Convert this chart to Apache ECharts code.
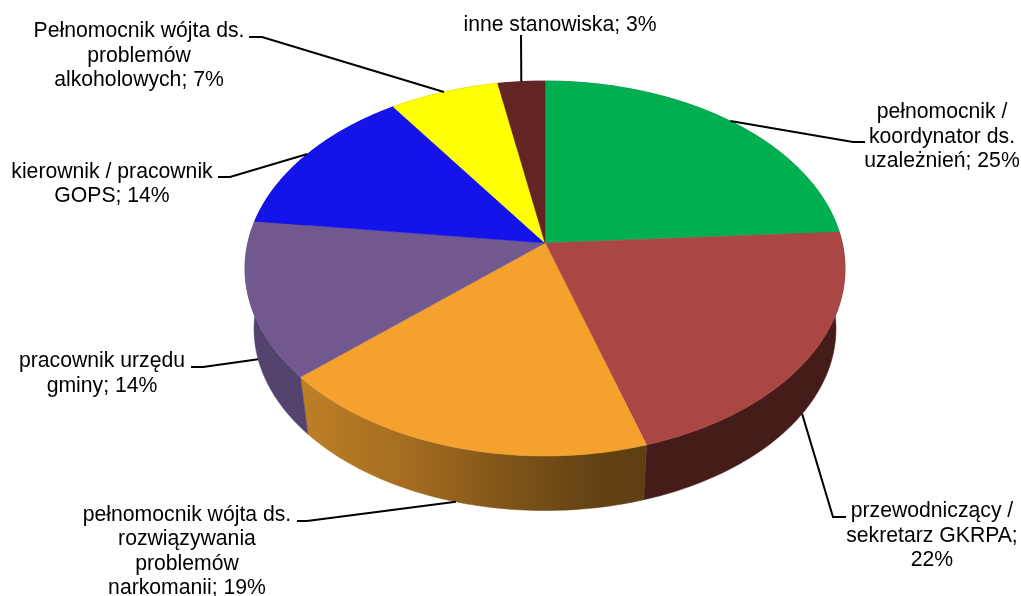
<!DOCTYPE html>
<html>
<head>
<meta charset="utf-8">
<style>html,body{margin:0;padding:0;background:#fff}#chart{width:1021px;height:596px}</style>
<script src="https://cdn.jsdelivr.net/npm/echarts@6/dist/echarts.min.js"></script>
</head>
<body>
<div id="chart"></div>
<script>
// Survey shares (multiple answers allowed, so the percentages sum above 100)
const categories = [
  'pełnomocnik /\nkoordynator ds.\nuzależnień',
  'przewodniczący /\nsekretarz GKRPA',
  'pełnomocnik wójta ds.\nrozwiązywania\nproblemów\nnarkomanii',
  'pracownik urzędu\ngminy',
  'kierownik / pracownik\nGOPS',
  'Pełnomocnik wójta ds.\nproblemów\nalkoholowych',
  'inne stanowiska'
];
const shares = [25, 22, 19, 14, 14, 7, 3];
const topColors = ['#00B050', '#AA4643', '#F5A12E', '#71588F', '#1414EA', '#FFFF00', '#632523'];

// Separator before the percentage; the second label wraps it onto its own line
const labelJoins = ['; ', ';\n', '; ', '; ', '; ', '; ', '; '];

// Label block centres and leader-line elbows
const labelCenters = [[942, 137], [932, 536], [187, 551.5], [102, 373.5], [112, 184], [139, 56], [560, 25]];
const elbows = [
  [[853, 142], [865, 142]],
  [[833, 517], [846, 517]],
  [[307, 521], [297, 521]],
  [[203, 367], [191, 367]],
  [[230, 177], [218, 177]],
  [[262, 37], [249, 37]],
  [[521, 35]]
];

// Perspective disc: the apex sits above the centre of the visible ellipse
const apexX = 545, apexY = 243;
const discA = 297.2, discB = 184, tilt = 0.136;
const wallScale = 0.97, wallDrop = 61;

const total = shares.reduce((s, v) => s + v, 0);
const starts = [];
shares.reduce((s, v, i) => { starts[i] = s; return s + v; }, 0);

function rimPoint(turn, lower) {
  const t = turn * 2 * Math.PI;
  const X = Math.sin(t), Z = -Math.cos(t), w = 1 - tilt * Z;
  const px = discA * X / w, py = discB * Z / w;
  return lower
    ? [apexX + px * wallScale, apexY + py * wallScale + wallDrop]
    : [apexX + px, apexY + py];
}

function rimArc(a, b, lower) {
  const n = Math.max(8, Math.ceil((b - a) * 360));
  const pts = [];
  for (let i = 0; i <= n; i++) pts.push(rimPoint(a + (b - a) * i / n, lower));
  return pts;
}

function wallFill(i) {
  if (i === 2) {
    return new echarts.graphic.LinearGradient(300, 0, 648, 0, [
      { offset: 0, color: '#BE7F26' },
      { offset: 0.3, color: '#A56D20' },
      { offset: 0.6, color: '#7F5418' },
      { offset: 0.85, color: '#624213' },
      { offset: 1, color: '#5E3F12' }
    ], true);
  }
  return ['#00662F', '#451C1A', '#000', '#54436E', '#0A0A90', '#999900', '#3A1614'][i];
}

function sliceTurns(i) {
  return [starts[i] / total, (starts[i] + shares[i]) / total];
}

function renderWall(params) {
  const i = params.dataIndex;
  const [a, b] = sliceTurns(i);
  const fill = wallFill(i);
  const pts = rimArc(a, b, false).concat(rimArc(a, b, true).reverse());
  return { type: 'polygon', shape: { points: pts }, style: { fill, stroke: fill, lineWidth: 0.5 } };
}

function renderTop(params) {
  const i = params.dataIndex;
  const [a, b] = sliceTurns(i);
  const pts = [[apexX, apexY]].concat(rimArc(a, b, false));
  return { type: 'polygon', shape: { points: pts }, style: { fill: topColors[i], stroke: topColors[i], lineWidth: 0.5 } };
}

function renderLabel(params, api) {
  const i = params.dataIndex;
  const [a, b] = sliceTurns(i);
  const mid = (a + b) / 2;
  const front = mid > 0.25 && mid < 0.75;
  const line = [rimPoint(mid, front)].concat(elbows[i]);
  const [cx, cy] = labelCenters[i];
  return {
    type: 'group',
    children: [
      { type: 'polyline', shape: { points: line }, style: { fill: 'none', stroke: '#000', lineWidth: 2 } },
      {
        type: 'text',
        style: {
          x: cx, y: cy,
          text: categories[i] + labelJoins[i] + api.value(0) + '%',
          align: 'center', verticalAlign: 'middle',
          font: '21.2px "Liberation Sans", Arial, sans-serif',
          lineHeight: 24.5,
          fill: '#000'
        }
      }
    ]
  };
}

const chart = echarts.init(document.getElementById('chart'), null, { renderer: 'canvas' });
chart.setOption({
  animation: false,
  backgroundColor: '#fff',
  series: [
    { type: 'custom', coordinateSystem: 'none', z: 1, silent: true, renderItem: renderWall, data: shares },
    { type: 'custom', coordinateSystem: 'none', z: 2, silent: true, renderItem: renderTop, data: shares },
    { type: 'custom', coordinateSystem: 'none', z: 3, silent: true, renderItem: renderLabel, data: shares }
  ]
});
</script>
</body>
</html>
